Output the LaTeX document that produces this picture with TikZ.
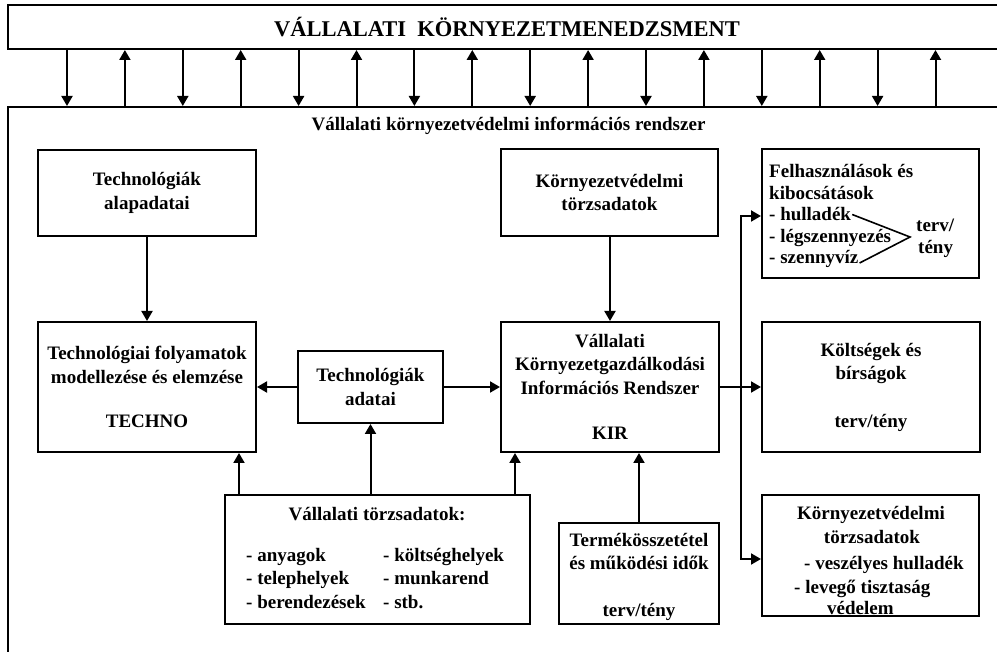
\documentclass[tikz,border=0pt]{standalone}
\usepackage{fontspec}
\setmainfont{Liberation Serif}
\usetikzlibrary{arrows.meta}

\newcommand\boxfont{\bfseries\fontsize{19}{23.5}\selectfont}
\newcommand\titlefont{\bfseries\fontsize{22.5}{26}\selectfont}

\tikzset{
  frame/.style={draw, line width=2pt, inner sep=0pt},
  box/.style={frame, align=center, font=\boxfont},
  arr/.style={line width=2pt, -{Triangle[length=10pt,width=11pt]}},
  ln/.style={line width=2pt},
  txt/.style={inner sep=0pt, anchor=base west, font=\boxfont},
  ctxt/.style={inner sep=0pt, anchor=base, font=\boxfont},
}

\begin{document}
\begin{tikzpicture}[x=1pt, y=-1pt]
\useasboundingbox (0,0) rectangle (997,652);

% management banner and the information system frame (both run off the right edge)
\node[frame, minimum width=1002pt, minimum height=44pt] (banner) at (509,27) {};
\node[font=\titlefont, inner sep=0pt] (title) at (507,27) {VÁLLALATI~~KÖRNYEZETMENEDZSMENT};
\node[frame, minimum width=1002pt, minimum height=593pt] (sys) at (509,403.5) {};
\node[font=\boxfont, inner sep=0pt] (systitle) at (508.5,126) {Vállalati környezetvédelmi információs rendszer};

% alternating information flows between management and the system
\foreach \i in {0,...,15}{
  \pgfmathsetmacro\xx{67+57.9*\i}
  \ifodd\i
    \draw[arr] (sys.north -| \xx,0) -- (banner.south -| \xx,0);
  \else
    \draw[arr] (banner.south -| \xx,0) -- (sys.north -| \xx,0);
  \fi
}

% left column
\node[box, minimum width=218pt, minimum height=86pt] (alap) at (147,193) {Technológiák\\alapadatai};
\node[box, minimum width=218pt, minimum height=130pt] (techno) at (147,387)
  {Technológiai folyamatok\\modellezése és elemzése\\[21pt]TECHNO};
\node[box, minimum width=145pt, minimum height=72pt] (adatai) at (370.5,387) {Technológiák\\adatai};

% middle column
\node[box, minimum width=217pt, minimum height=87pt] (ktorzs) at (609.5,192.5) {Környezetvédelmi\\törzsadatok};
\node[box, minimum width=218pt, minimum height=130pt] (kir) at (610,387)
  {Vállalati\\Környezetgazdálkodási\\Információs Rendszer\\[22pt]KIR};
\node[frame, minimum width=160pt, minimum height=101pt] (termek) at (639,573.5) {};
\node[ctxt] (t1) at (639,546) {Termékösszetétel};
\node[ctxt] (t2) at (639,569) {és működési idők};
\node[ctxt] (t3) at (639,616) {terv/tény};

% company master data
\node[frame, minimum width=305pt, minimum height=129pt] (vtorzs) at (377.5,559.5) {};
\node[ctxt] (vtitle) at (377,521) {Vállalati törzsadatok:};
\node[txt] (v1) at (246,561) {- anyagok};
\node[txt] (v2) at (246,584) {- telephelyek};
\node[txt] (v3) at (246,608) {- berendezések};
\node[txt] (v4) at (383,561) {- költséghelyek};
\node[txt] (v5) at (383,584) {- munkarend};
\node[txt] (v6) at (383,608) {- stb.};

% right column
\node[frame, minimum width=217pt, minimum height=129pt] (felh) at (870.5,213.5) {};
\node[txt] (f1) at (769,178) {Felhasználások és};
\node[txt] (f2) at (769,199.5) {kibocsátások};
\node[txt] (hull) at (769,221) {- hulladék};
\node[txt] (legsz) at (769,242.5) {- légszennyezés};
\node[txt] (szenny) at (769,264) {- szennyvíz};
\node[txt] (terv) at (916,232) {terv/};
\node[txt] (teny) at (918,254) {tény};
\coordinate (vtx) at (910,237);
\draw[line width=1.6pt] ([xshift=1pt]hull.east) -- (vtx) -- ([xshift=1pt,yshift=1pt]szenny.base east);

\node[box, minimum width=218pt, minimum height=130pt] (koltseg) at (871,387)
  {Költségek és\\bírságok\\[24pt]terv/tény};

\node[frame, minimum width=217pt, minimum height=121pt] (ktorzs2) at (870.5,555.5) {};
\node[ctxt] (k1) at (871,519) {Környezetvédelmi};
\node[ctxt] (k2) at (872,543) {törzsadatok};
\node[txt] (k3) at (804,569) {- veszélyes hulladék};
\node[txt] (k4) at (794,593) {- levegő tisztaság};
\node[txt] (k5) at (827,614) {védelem};

% connectors
\draw[arr] (alap) -- (techno);
\draw[arr] (ktorzs.south -| kir) -- (kir);
\draw[arr] (adatai) -- (techno);
\draw[arr] (adatai) -- (kir);
\draw[arr] (vtorzs.north -| 239,0) -- (techno.south -| 239,0);
\draw[arr] (vtorzs.north -| adatai) -- (adatai);
\draw[arr] (vtorzs.north -| 515,0) -- (kir.south -| 515,0);
\draw[arr] (termek) -- (kir.south -| termek);
\draw[arr] (kir) -- (koltseg);

% distribution bus towards the right-hand boxes
\coordinate (bustop) at (741,216);
\coordinate (busbot) at (741,559);
\draw[arr] (busbot) -- (bustop) -- (bustop -| felh.west);
\draw[arr] (bustop) -- (busbot) -- (busbot -| ktorzs2.west);
\end{tikzpicture}
\end{document}
